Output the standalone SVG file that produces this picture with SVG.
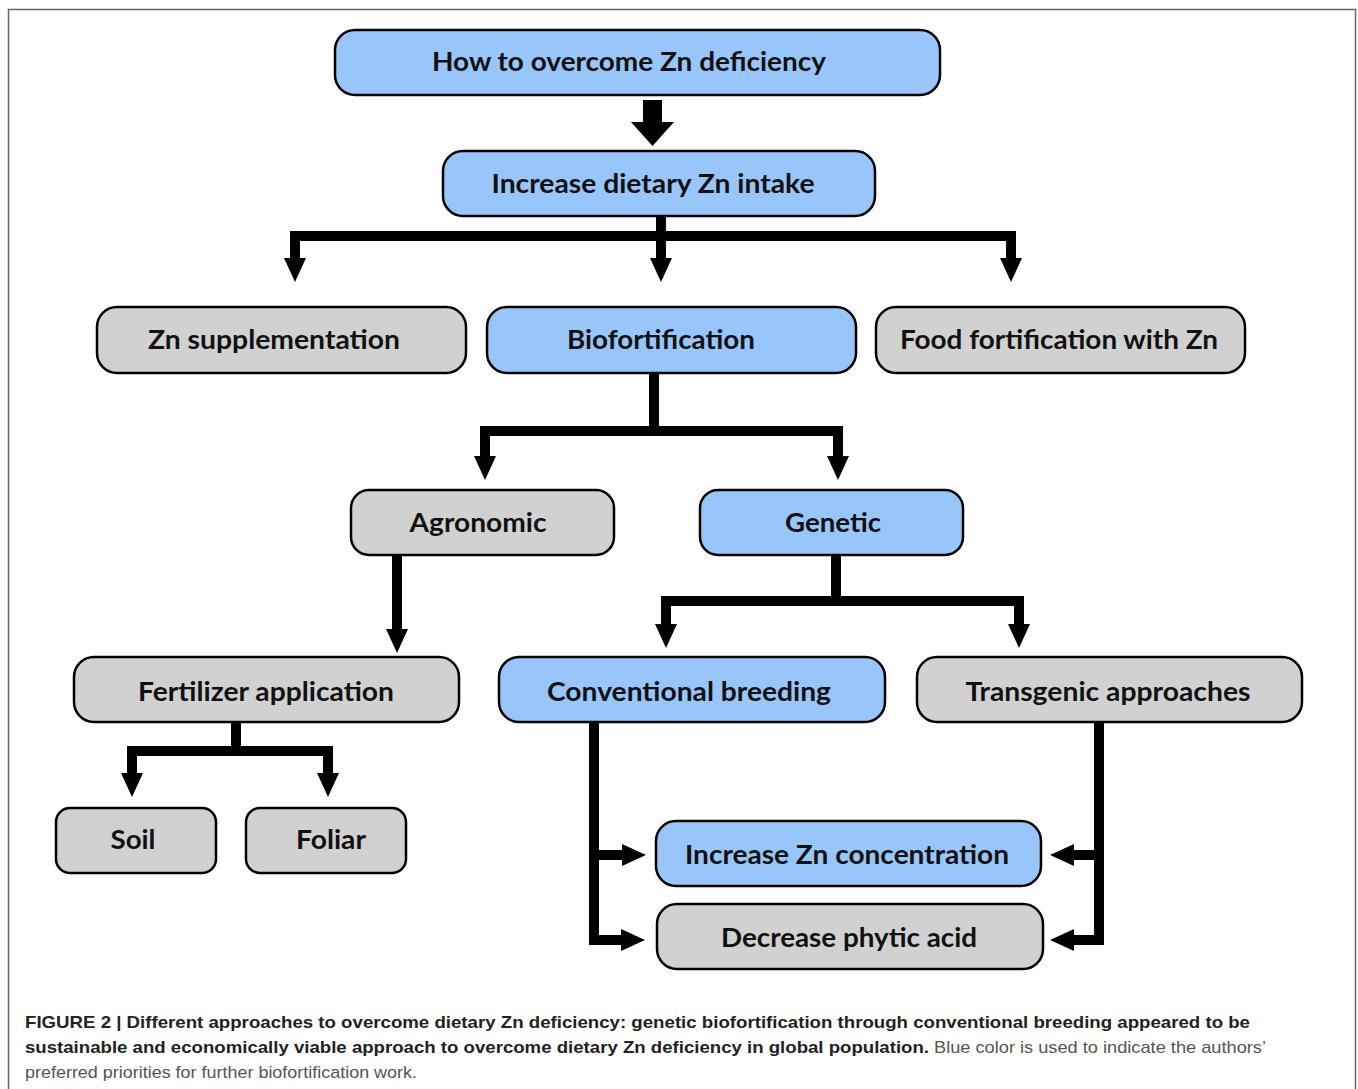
<svg xmlns="http://www.w3.org/2000/svg" width="1358" height="1089" viewBox="0 0 1358 1089">
<defs>
<marker id="ah" markerUnits="userSpaceOnUse" markerWidth="24" markerHeight="22" refX="0" refY="11" orient="auto" viewBox="0 0 24 22">
<path d="M0,0 L24,11 L0,22 z" fill="#000"/>
</marker>
</defs>
<style>
.blue{fill:#99c6fa;stroke:#000;stroke-width:2.5}
.gray{fill:#d1d1d1;stroke:#000;stroke-width:2.5}
.lbl{font-family:Lato,"Open Sans","Liberation Sans",sans-serif;font-weight:700;font-size:26px;fill:#111;text-anchor:middle}
.con{fill:none;stroke:#000;stroke-width:10;stroke-linejoin:miter;stroke-linecap:butt}
.arr{marker-end:url(#ah)}
.cap{font-family:"Liberation Sans Narrow","Liberation Sans",Arial,sans-serif;font-size:17px}
.capb{font-weight:700;fill:#222}
.capr{fill:#555}
</style>
<rect x="8.5" y="9.5" width="1347" height="1100" fill="#fff" stroke="#666" stroke-width="1.5"/>

<g id="connectors">
<polygon points="643,100 662,100 662,122 674,122 652.5,146 631,122 643,122" fill="#000"/>
<path class="con arr" d="M661,216 V258"/>
<path class="con arr" d="M661,236 H295 V258"/>
<path class="con arr" d="M661,236 H1011 V258"/>
<path class="con" d="M654,373 V431"/>
<path class="con arr" d="M654,431 H485 V456"/>
<path class="con arr" d="M654,431 H838 V456"/>
<path class="con arr" d="M397,555 V629"/>
<path class="con" d="M836,555 V601"/>
<path class="con arr" d="M836,601 H666 V624"/>
<path class="con arr" d="M836,601 H1019 V624"/>
<path class="con" d="M236,722 V751"/>
<path class="con arr" d="M236,751 H132 V773"/>
<path class="con arr" d="M236,751 H328 V773"/>
<path class="con arr" d="M594,722 V855 H622"/>
<path class="con arr" d="M594,850 V940 H621"/>
<path class="con arr" d="M1099,722 V855 H1074"/>
<path class="con arr" d="M1099,850 V940 H1074"/>
</g>

<g id="n-overcome"><rect class="blue" x="335" y="30" width="605" height="65" rx="20"/><text class="lbl" x="629" y="71" textLength="394" lengthAdjust="spacingAndGlyphs">How to overcome Zn deficiency</text></g>
<g id="n-intake"><rect class="blue" x="443" y="151" width="432" height="65" rx="20"/><text class="lbl" x="653" y="193" textLength="323" lengthAdjust="spacingAndGlyphs">Increase dietary Zn intake</text></g>
<g id="n-supp"><rect class="gray" x="97" y="307" width="369" height="66" rx="20"/><text class="lbl" x="274" y="349" textLength="252" lengthAdjust="spacingAndGlyphs">Zn supplementation</text></g>
<g id="n-biofort"><rect class="blue" x="487" y="307" width="369" height="66" rx="20"/><text class="lbl" x="661" y="349" textLength="188" lengthAdjust="spacingAndGlyphs">Biofortification</text></g>
<g id="n-food"><rect class="gray" x="876" y="307" width="369" height="66" rx="20"/><text class="lbl" x="1059" y="349" textLength="318" lengthAdjust="spacingAndGlyphs">Food fortification with Zn</text></g>
<g id="n-agro"><rect class="gray" x="351" y="490" width="263" height="65" rx="18"/><text class="lbl" x="478" y="532" textLength="137" lengthAdjust="spacingAndGlyphs">Agronomic</text></g>
<g id="n-genetic"><rect class="blue" x="700" y="490" width="263" height="65" rx="18"/><text class="lbl" x="833" y="532" textLength="96" lengthAdjust="spacingAndGlyphs">Genetic</text></g>
<g id="n-fert"><rect class="gray" x="74" y="657" width="385" height="65" rx="20"/><text class="lbl" x="266" y="701" textLength="256" lengthAdjust="spacingAndGlyphs">Fertilizer application</text></g>
<g id="n-conv"><rect class="blue" x="499" y="657" width="386" height="65" rx="20"/><text class="lbl" x="689" y="701" textLength="284" lengthAdjust="spacingAndGlyphs">Conventional breeding</text></g>
<g id="n-trans"><rect class="gray" x="917" y="657" width="385" height="65" rx="20"/><text class="lbl" x="1108" y="701" textLength="285" lengthAdjust="spacingAndGlyphs">Transgenic approaches</text></g>
<g id="n-soil"><rect class="gray" x="56" y="808" width="160" height="65" rx="14"/><text class="lbl" x="133" y="849" textLength="45" lengthAdjust="spacingAndGlyphs">Soil</text></g>
<g id="n-foliar"><rect class="gray" x="246" y="808" width="160" height="65" rx="14"/><text class="lbl" x="331" y="849" textLength="70" lengthAdjust="spacingAndGlyphs">Foliar</text></g>
<g id="n-conc"><rect class="blue" x="656" y="821" width="385" height="65" rx="20"/><text class="lbl" x="847" y="864" textLength="324" lengthAdjust="spacingAndGlyphs">Increase Zn concentration</text></g>
<g id="n-phytic"><rect class="gray" x="657" y="904" width="386" height="65" rx="20"/><text class="lbl" x="849" y="947" textLength="256" lengthAdjust="spacingAndGlyphs">Decrease phytic acid</text></g>

<g id="caption">
<text class="cap capb" x="25" y="1028" textLength="1225" lengthAdjust="spacingAndGlyphs">FIGURE 2 | Different approaches to overcome dietary Zn deficiency: genetic biofortification through conventional breeding appeared to be</text>
<text class="cap capb" x="25" y="1053" textLength="904" lengthAdjust="spacingAndGlyphs">sustainable and economically viable approach to overcome dietary Zn deficiency in global population.</text>
<text class="cap capr" x="934" y="1053" textLength="332" lengthAdjust="spacingAndGlyphs">Blue color is used to indicate the authors’</text>
<text class="cap capr" x="25" y="1078" textLength="392" lengthAdjust="spacingAndGlyphs">preferred priorities for further biofortification work.</text>
</g>
</svg>
